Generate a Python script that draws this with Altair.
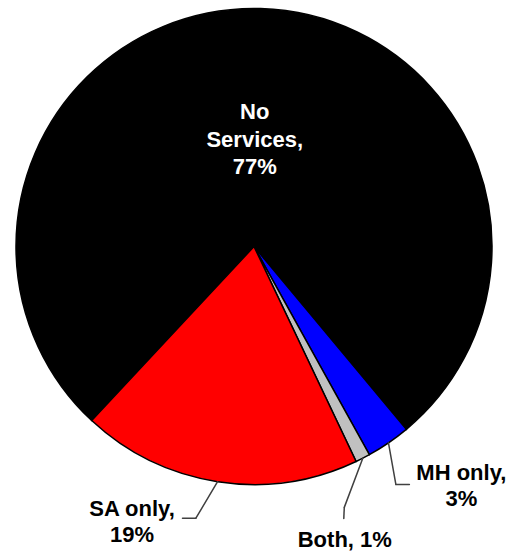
import math
import altair as alt
import pandas as pd

# Share of respondents by service received
categories = ["No Services", "MH only", "Both", "SA only"]
shares = [77, 3, 1, 19]
slice_colors = ["#000000", "#0000FF", "#C0C0C0", "#FF0000"]
label_names = ["No\nServices", "MH only", "Both", "SA only"]
label_joins = ["\n", "\n", " ", "\n"]

# Pie geometry (pixels) and the angle at which the first slice begins
CX, CY, R = 254, 246.5, 238
START = math.radians(223)
TAU = 2 * math.pi
FONT = "Liberation Sans, Arial, sans-serif"

# Leader-line layout for labels placed outside the pie:
# bend offset from the rim point, tail offset from the bend, text offset from the tail
leader_layout = {
    "MH only": dict(bx=7.4, by=41.6, tx=13.5, ty=0, ox=52, oy=-4.5),
    "Both": dict(bx=-18.5, by=49.2, tx=-0.5, ty=11, ox=1, oy=29),
    "SA only": dict(bx=-21.7, by=36.5, tx=-13.4, ty=0, ox=-50.5, oy=-2.6),
}

labels = [f"{n},{j}{s}%" for n, j, s in zip(label_names, label_joins, shares)]
outside = [c in leader_layout for c in categories]

df = pd.DataFrame({
    "category": categories,
    "share": shares,
    "color": slice_colors,
    "idx": list(range(len(categories))),
    "outside": outside,
    "inner": [("" if o else t) for t, o in zip(labels, outside)],
    "outer": [(t if o else "") for t, o in zip(labels, outside)],
})
for key in ["bx", "by", "tx", "ty", "ox", "oy"]:
    df[key] = [leader_layout.get(c, {}).get(key, 0) for c in categories]

base = alt.Chart(df)
theta_enc = alt.Theta("share:Q", stack=True, scale=alt.Scale(range=[START, START + TAU]))
order_enc = alt.Order("idx:Q")
center = dict(x=alt.value(CX), y=alt.value(CY))

pie = base.mark_arc(radius=R, stroke="black", strokeWidth=1.5).encode(
    theta=theta_enc,
    color=alt.Color("color:N", scale=None),
    order=order_enc,
    **center,
)

inner_text = base.mark_text(
    radius=134.5, dx=-3, font=FONT, fontSize=22, fontWeight="bold",
    color="white", lineBreak="\n", lineHeight=27.5,
).encode(theta=theta_enc, order=order_enc, text="inner:N", **center)

geo = (
    base.transform_joinaggregate(total="sum(share)")
    .transform_window(cum="sum(share)", sort=[alt.SortField("idx")], frame=[None, 0])
    .transform_filter("datum.outside")
    .transform_calculate(
        mid=f"{START} + {TAU} * (datum.cum - datum.share / 2) / datum.total",
        x0=f"{CX} + {R} * sin(datum.mid)",
        y0=f"{CY} - {R} * cos(datum.mid)",
        x1="datum.x0 + datum.bx",
        y1="datum.y0 + datum.by",
        x2="datum.x1 + datum.tx",
        y2="datum.y1 + datum.ty",
        label_x="datum.x2 + datum.ox",
        label_y="datum.y2 + datum.oy",
    )
)

seg1 = geo.mark_rule(color="#404040", strokeWidth=1.5, strokeCap="round").encode(
    x=alt.X("x0:Q", scale=None, axis=None),
    y=alt.Y("y0:Q", scale=None, axis=None),
    x2="x1:Q",
    y2="y1:Q",
)
seg2 = geo.mark_rule(color="#404040", strokeWidth=1.5, strokeCap="round").encode(
    x=alt.X("x1:Q", scale=None, axis=None),
    y=alt.Y("y1:Q", scale=None, axis=None),
    x2="x2:Q",
    y2="y2:Q",
)

outer_text = geo.mark_text(
    align="center", baseline="alphabetic", font=FONT, fontSize=22,
    fontWeight="bold", color="black", lineBreak="\n", lineHeight=26,
).encode(
    x=alt.X("label_x:Q", scale=None, axis=None),
    y=alt.Y("label_y:Q", scale=None, axis=None),
    text="outer:N",
)

chart = (
    alt.layer(pie, inner_text, seg1, seg2, outer_text)
    .properties(width=521, height=552, padding=0, autosize="none", background="white")
    .configure_view(stroke=None)
)

chart.save("out.html", embed_options={"renderer": "svg", "actions": False})
